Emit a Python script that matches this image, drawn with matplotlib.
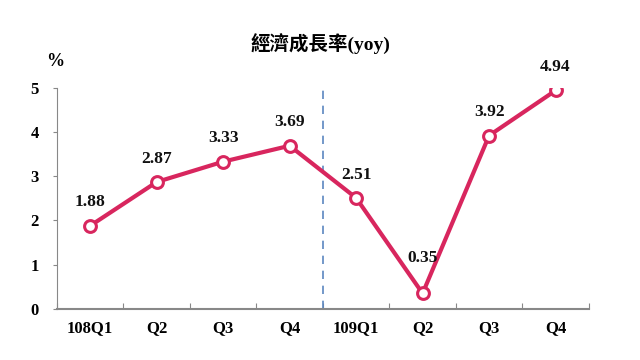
import matplotlib
matplotlib.use("Agg")
import matplotlib.pyplot as plt
import numpy as np

categories = ["108Q1", "Q2", "Q3", "Q4", "109Q1", "Q2", "Q3", "Q4"]
values = [1.88, 2.87, 3.33, 3.69, 2.51, 0.35, 3.92, 4.94]
yticks = [0, 1, 2, 3, 4, 5]
title = "經濟成長率(yoy)"

serif = ["Liberation Serif", "Noto Sans CJK TC", "DejaVu Sans"]
plt.rcParams["font.family"] = serif

fig = plt.figure(figsize=(6.4, 3.6), dpi=100)
ax = fig.add_axes([0.089, 0.142, 0.831, 0.614])

x = np.arange(len(values)) + 0.5
color = "#D8265E"
ax.plot(x, values, color=color, lw=3, marker="o", ms=8.5,
        mfc="white", mec=color, mew=2.2, zorder=3)

for xi, v in zip(x, values):
    off = 20 if v < 1 else 11
    ax.annotate(f"{v:.2f}", (xi, v), xytext=(0, off), textcoords="offset points",
                ha="center", va="bottom", fontsize=12.5, fontweight="bold", color="#111111")

ax.plot([4, 4], [0, 5.05], color="#5B86C0", lw=1.2, ls=(0, (5, 4)), zorder=2, clip_on=False)

ax.set_xlim(0, len(values))
ax.set_ylim(0, 5)
ax.set_yticks(yticks)
ax.set_yticklabels([str(t) for t in yticks], fontsize=12, fontweight="bold")
ax.set_xticks(np.arange(len(values) + 1))
ax.set_xticklabels([])
ax.set_xticks(x, minor=True)
ax.set_xticklabels(categories, minor=True, fontsize=12, fontweight="bold")
ax.tick_params(axis="x", which="major", direction="in", length=4, color="#888888")
ax.tick_params(axis="x", which="minor", length=0, pad=8)
ax.tick_params(axis="y", direction="out", length=3, color="#888888", pad=10)

for s in ["top", "right"]:
    ax.spines[s].set_visible(False)
ax.spines["left"].set_color("#888888")
ax.spines["bottom"].set_color("#888888")
ax.spines["bottom"].set_linewidth(1.5)

fig.text(0.5, 0.88, title, ha="center", va="center", fontsize=14, fontweight="bold")
fig.text(0.087, 0.83, "%", ha="center", va="center", fontsize=13, fontweight="bold")

fig.savefig("out.png", dpi=100, facecolor="white")
